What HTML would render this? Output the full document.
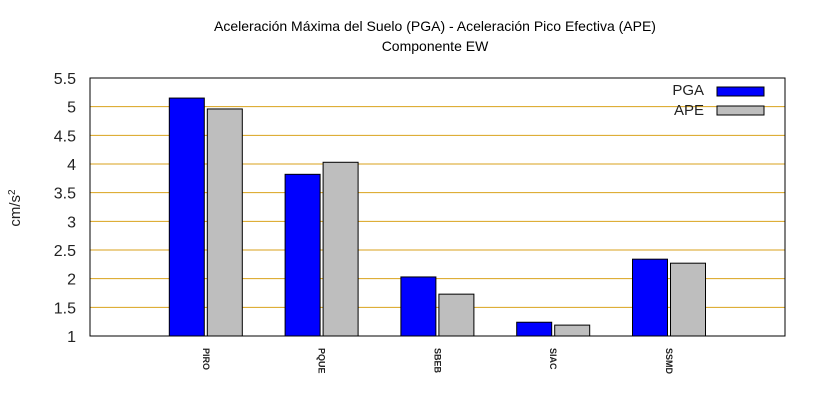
<!DOCTYPE html>
<html><head><meta charset="utf-8"><style>
body{margin:0;background:#fff;}
svg{display:block;font-family:"Liberation Sans","DejaVu Sans",sans-serif;}
</style></head><body>
<svg id="chart" width="820" height="400">
<text x="435" y="31" text-anchor="middle" font-size="14">Aceleración Máxima del Suelo (PGA) -  Aceleración Pico Efectiva (APE)</text>
<text x="435" y="51" text-anchor="middle" font-size="14">Componente EW</text>
<text transform="translate(20,208) rotate(-90)" text-anchor="middle" font-size="15" fill="#222">cm/s<tspan baseline-shift="super" font-size="10">2</tspan></text>
<g id="grid"></g><g id="bars"></g><g id="axes"></g>
<g>
<text x="704" y="95" text-anchor="end" font-size="15" fill="#222">PGA</text>
<rect x="717" y="87" width="47" height="9" fill="#0000ff" stroke="#000"/>
<text x="704" y="115" text-anchor="end" font-size="15" fill="#222">APE</text>
<rect x="717" y="106" width="47" height="9" fill="#bebebe" stroke="#000"/>
</g>
</svg>
<script>
const categories=["PIRO","PQUE","SBEB","SIAC","SSMD"];
const pga=[5.15,3.82,2.03,1.24,2.34];
const ape=[4.96,4.03,1.73,1.19,2.27];
const yTicks=[1,1.5,2,2.5,3,3.5,4,4.5,5,5.5];
const yTickLabels=["1","1.5","2","2.5","3","3.5","4","4.5","5","5.5"];
const NS="http://www.w3.org/2000/svg";
const L=90,R=785,T=78,B=336,yMin=1,yMax=5.5,step=115.8;
const y=v=>B-(v-yMin)/(yMax-yMin)*(B-T);
const x=i=>L+(i+1)*step;
function mk(tag,attrs,parent){const e=document.createElementNS(NS,tag);for(const k in attrs)e.setAttribute(k,attrs[k]);parent.appendChild(e);return e;}
const grid=document.getElementById('grid'),bars=document.getElementById('bars'),axes=document.getElementById('axes');
yTicks.forEach((v,i)=>{
  if(v>yMin&&v<yMax){const g=mk('line',{x1:L,x2:R,y1:y(v),y2:y(v),stroke:'#d9a21b','stroke-width':1},grid);
  
  }
  const t=mk('text',{x:L-14,y:y(v)+6,'text-anchor':'end','font-size':16,fill:'#222'},axes);
  t.textContent=yTickLabels[i];
  
  
});
const bw=35,gap=3;
categories.forEach((c,i)=>{
  const cx=x(i);
  const b1=mk('rect',{x:cx-bw-gap/2,y:y(pga[i]),width:bw,height:B-y(pga[i]),fill:'#0000ff',stroke:'#000','stroke-width':1},bars);
  
  
  const b2=mk('rect',{x:cx+gap/2,y:y(ape[i]),width:bw,height:B-y(ape[i]),fill:'#bebebe',stroke:'#000','stroke-width':1},bars);
  
  
  const t=mk('text',{transform:`translate(${cx-3},348) rotate(90)`,'font-size':9,'font-weight':'bold',fill:'#222'},axes);
  t.textContent=c;
  
  
});
const f=mk('rect',{x:L,y:T,width:R-L,height:B-T,fill:'none',stroke:'#000','stroke-width':1},axes);


</script>
</body></html>
